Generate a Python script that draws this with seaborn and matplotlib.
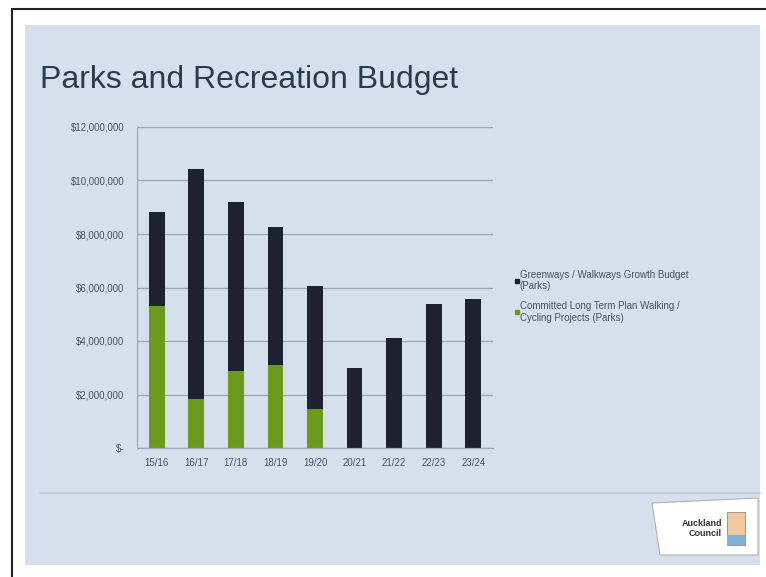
import numpy as np
import pandas as pd
import matplotlib
matplotlib.use('Agg')
import matplotlib.pyplot as plt
import matplotlib.patches as mpatches
from matplotlib.lines import Line2D
from matplotlib.ticker import FuncFormatter
import seaborn as sns

# Data (dollars)
years = ['15/16', '16/17', '17/18', '18/19', '19/20', '20/21', '21/22', '22/23', '23/24']
committed_ltp = [5.29e6, 1.83e6, 2.86e6, 3.11e6, 1.46e6, 0, 0, 0, 0]
greenways_growth = [3.53e6, 8.60e6, 6.34e6, 5.17e6, 4.61e6, 2.99e6, 4.11e6, 5.38e6, 5.57e6]
series_names = ['Greenways / Walkways Growth Budget\n(Parks)',
                'Committed Long Term Plan Walking /\nCycling Projects (Parks)']

df = pd.DataFrame({'year': years, 'ltp': committed_ltp, 'growth': greenways_growth})
df['total'] = df['ltp'] + df['growth']

slide_bg = '#d5e0ec'
dark = '#1d2230'
green = '#6c9a1d'

sns.set_style('white')
plt.rcParams['font.family'] = ['Liberation Sans', 'DejaVu Sans']

fig = plt.figure(figsize=(7.66, 5.77), dpi=100)
fig.patch.set_facecolor('white')

W, H = 766, 577
def fx(x): return x / W
def fy(y): return 1 - y / H

# slide frame and background
fig.add_artist(Line2D([fx(12), fx(12)], [fy(9), 0], color='#222222', lw=1.5))
fig.add_artist(Line2D([fx(12), 1], [fy(9), fy(9)], color='#222222', lw=1.5))
fig.add_artist(mpatches.Rectangle((fx(25), fy(565)), fx(760) - fx(25), fy(25) - fy(565),
                                  facecolor=slide_bg, edgecolor='none', zorder=0))
fig.add_artist(Line2D([fx(40), fx(760)], [fy(493), fy(493)], color='#bccad8', lw=1.2))

fig.text(fx(40), fy(80), 'Parks and Recreation Budget', fontsize=23, color='#2c3b4c',
         va='center', ha='left')

ax = fig.add_axes([fx(137), fy(448), fx(493) - fx(137), fy(127) - fy(448)])
ax.set_facecolor('none')

sns.barplot(data=df, x='year', y='total', color=dark, width=0.4, ax=ax, saturation=1,
            linewidth=0, edgecolor='none')
sns.barplot(data=df, x='year', y='ltp', color=green, width=0.4, ax=ax, saturation=1,
            linewidth=0, edgecolor='none')

ax.set_ylim(0, 12e6)
ax.set_xlim(-0.5, 8.5)
ax.set_yticks(np.arange(0, 12.1e6, 2e6))
ax.yaxis.set_major_formatter(FuncFormatter(lambda v, p: '$-' if v == 0 else f'${v:,.0f}'))
ax.grid(axis='y', color='#9aa5b1', lw=0.9)
ax.set_axisbelow(True)
ax.set_xlabel('')
ax.set_ylabel('')
for s in ['top', 'right']:
    ax.spines[s].set_visible(False)
ax.spines['left'].set_color('#9aa5b1')
ax.spines['bottom'].set_color('#9aa5b1')
ax.tick_params(axis='y', labelsize=7, colors='#4a5058', length=3, color='#9aa5b1',
               direction='out', pad=6)
ax.tick_params(axis='x', labelsize=7, colors='#4a5058', length=0, pad=7)

handles = [Line2D([], [], marker='s', color=c, ls='none', markersize=3) for c in [dark, green]]
ax.legend(handles, series_names, loc='upper left', bbox_to_anchor=(fx(506), fy(261)),
          bbox_transform=fig.transFigure, frameon=False, fontsize=7, handlelength=0.4,
          handletextpad=0.1, labelspacing=1.0, labelcolor='#4a5058')

# council logo badge
badge = mpatches.Polygon([(fx(652), fy(503)), (fx(758), fy(498)), (fx(758), fy(555)), (fx(660), fy(555))],
                         closed=True, facecolor='white', edgecolor='#b0b0b0', lw=0.8)
fig.add_artist(badge)
fig.text(fx(722), fy(523), 'Auckland', fontsize=6.5, fontweight='bold', color='#333333', ha='right', va='center')
fig.text(fx(722), fy(533), 'Council', fontsize=6.5, fontweight='bold', color='#333333', ha='right', va='center')
fig.add_artist(mpatches.Rectangle((fx(727), fy(545)), fx(745) - fx(727), fy(512) - fy(545),
                                  facecolor='#f0c9a0', edgecolor='#888888', lw=0.6))
fig.add_artist(mpatches.Rectangle((fx(727), fy(545)), fx(745) - fx(727), fy(535) - fy(545),
                                  facecolor='#7fb0d8', edgecolor='none'))

fig.savefig('out.png', dpi=100, facecolor='white')
